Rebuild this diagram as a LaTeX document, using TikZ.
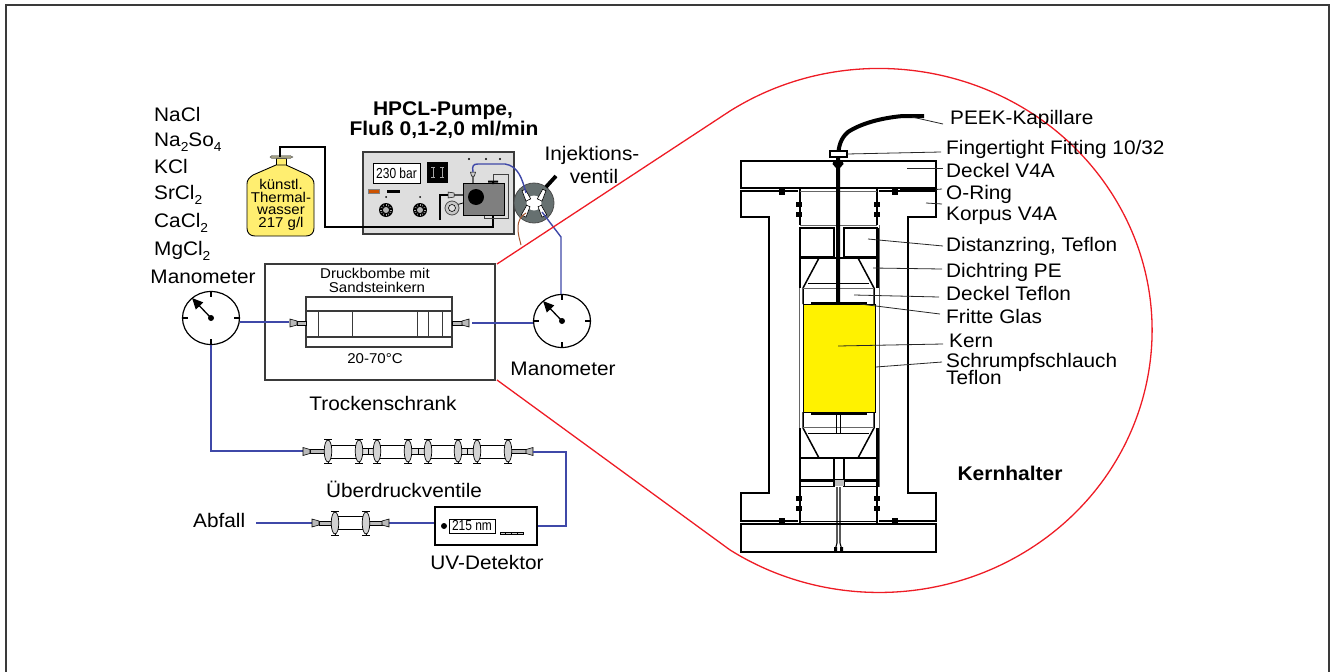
\documentclass[tikz,border=0pt]{standalone}
\usepackage{fontspec}
\usepackage{graphicx}
\setmainfont[FakeStretch=1.06]{Liberation Sans}
\usetikzlibrary{shapes.geometric,arrows.meta,calc}
\definecolor{tubeblue}{HTML}{3F48A8}
\definecolor{framegrey}{HTML}{3A3A3A}
\definecolor{redline}{HTML}{EE1C25}
\definecolor{bottley}{HTML}{FFEE70}
\definecolor{coreyellow}{HTML}{FFF200}
\definecolor{panel}{HTML}{DEDEDE}
\definecolor{motor}{HTML}{7F7F7F}
\definecolor{valvegrey}{HTML}{667070}
\definecolor{brown1}{HTML}{A5552F}
\newcommand{\lowtwo}[1]{\raisebox{-.28em}{\fontsize{13}{13}\selectfont #1}}
\newcommand{\leadr}[3]{\draw[leader] (#2) -- ([shift={(#3)}]#1.base west);}
\tikzset{
  x=1pt,y=-1pt,
  lab/.style={inner sep=0pt,font=\fontsize{19.6}{21}\selectfont},
  labw/.style={lab,anchor=base west},
  small/.style={inner sep=0pt,font=\fontsize{14.2}{15}\selectfont},
  boldlab/.style={inner sep=0pt,font=\fontsize{19.8}{20}\selectfont\bfseries},
  tube/.style={draw=tubeblue,line width=1.4pt},
  leader/.style={draw=black!85,line width=.8pt},
  wall/.style={draw=black,line width=1.5pt},
  thin1/.style={draw=black,line width=.8pt},
  gwall/.style={draw=black!60,line width=1pt},
  thick1/.style={draw=black,line width=2.2pt},
  mano/.style={ellipse,draw=black,line width=1.2pt,fill=white,minimum width=57pt,minimum height=53pt,inner sep=0pt},
  fitcone/.pic={
    \fill[gray!55,draw=black,line width=.5pt] (7,-2) rectangle (#1,2);
    \fill[gray!55,draw=black,line width=.6pt] (0,-4) -- (7,-2) -- (7,2) -- (0,4) -- cycle;
  },
  vdisk/.pic={
    \draw[black,line width=1pt] (-4,-12) -- (4,-12) (-4,12) -- (4,12) (0,-12) -- (0,12);
    \fill[gray!35,draw=black,line width=.7pt] (0,0) ellipse [x radius=3.8,y radius=11];
  },
  dial/.pic={
    \fill[black] (0,0) circle (7);
    \fill[gray!60] (0,0) circle (3);
    \foreach \a in {0,30,...,330} \draw[gray!70,line width=.5pt] (\a:4) -- (\a:6);
  },
  gaugemarks/.pic={
    \draw[black,line width=1.2pt] (0,-26.5) -- (0,-21) (0,26.5) -- (0,21) (-28.5,0) -- (-23,0) (28.5,0) -- (23,0);
    \draw[black,line width=1.3pt,-{Triangle[length=11pt,width=10pt]}] (0,0) -- (-19,-20);
    \fill[black] (0,0) circle (3);
  },
  vport/.pic={
    \fill[white,draw=black,line width=.6pt] (-1.8,-5.5) -- (1.8,-5.5) -- (2.6,5.5) -- (-2.6,5.5) -- cycle;
  }
}
\begin{document}
\begin{tikzpicture}
\useasboundingbox (0,0) rectangle (1331,672);
% outer frame
\coordinate (fA) at (6,672); \coordinate (fB) at (6,5); \coordinate (fC) at (1329,5); \coordinate (fD) at (1329,672);
\draw[framegrey,line width=2pt] (fA) -- (fB) -- (fC) -- (fD);

% salts
\node[labw] (sa) at (154,121) {NaCl};
\node[labw] (sb) at (154,146) {Na\lowtwo{2}So\lowtwo{4}};
\node[labw] (sc) at (154,173) {KCl};
\node[labw] (sd) at (154,199) {SrCl\lowtwo{2}};
\node[labw] (se) at (154,227) {CaCl\lowtwo{2}};
\node[labw] (sf) at (154,255) {MgCl\lowtwo{2}};

% bottle
\coordinate (bNeck) at (280,157);
\coordinate (b1) at (280,147); \coordinate (b2) at (325,147); \coordinate (b3) at (325,227); \coordinate (b4) at (493,227); \coordinate (b5) at (493,216);
\draw[fill=bottley,draw=black,line width=.9pt] (276,158) rectangle (286,166);
\draw[fill=bottley,draw=black,line width=.9pt] (276,165) -- (286,165) -- (308,175) .. controls (312,178) and (314,180) .. (314,184) -- (314,228) .. controls (314,233) and (311,236) .. (306,236) -- (255,236) .. controls (250,236) and (247,233) .. (247,228) -- (247,184) .. controls (247,180) and (249,178) .. (253,175) -- cycle;
\fill[black!70!yellow!60!white,draw=black!70,line width=.4pt] (270,157) -- (272,155.5) -- (290,155.5) -- (293,157) -- (290,158.5) -- (272,158.5) -- cycle;
\node[small] (bt1) at (281,184) {künstl.};
\node[small] (bt2) at (281,197) {Thermal-};
\node[small] (bt3) at (281,211) {wasser};
\node[small] (bt4) at (281,224) {217 g/l};

% pump
\node[boldlab] (hp1) at (443,111) {HPCL-Pumpe,};
\node[boldlab] (hp2) at (444,130) {Fluß 0,1-2,0 ml/min};
\draw[fill=panel,draw=framegrey,line width=1.4pt] (363,152) rectangle (514,234);
\draw[black,line width=1.3pt] (bNeck) -- (b1) -- (b2) -- (b3) -- (b4) -- (b5);
\node[draw=black,line width=1pt,fill=white,minimum width=47pt,minimum height=20pt,inner sep=0pt,font=\fontsize{14.5}{15}\selectfont] (disp) at (396.5,173) {\scalebox{.78}[1]{230 bar}};
\fill[black] (427,162) rectangle (448,183);
\draw[gray!70,line width=.9pt] (433,167) -- (433,177) (442,167) -- (442,177) (431,167) -- (435,167) (431,177) -- (435,177) (440,167) -- (444,167) (440,177) -- (444,177);
\fill[orange!80!red!80!black,draw=gray,line width=.5pt] (368,189) rectangle (379,193);
\fill[black] (387,190) rectangle (400,193);
\fill[black] (386,197) circle (1) (420,197) circle (1) (469,159) circle (1.2) (486,159) circle (1.2) (500,159) circle (1.2);
\pic at (386,210) {dial};
\pic at (420,210) {dial};
\draw[black!75,line width=1pt] (493,181) -- (493,174) -- (508,174) -- (508,218) -- (484,218) -- (484,215);
\draw[fill=motor,draw=black,line width=1pt] (463,183) rectangle (504,215);
\fill[black] (476,197) circle (8);
\fill[black] (488,180.5) rectangle (498,182.5) (492,182) rectangle (494,184);
\draw[black,line width=.8pt] (456,205) -- (463,203);
\draw[fill=gray!45,draw=black!70,line width=.8pt] (452,208) circle (7);
\draw[fill=gray!25,draw=black,line width=.6pt] (452,208) circle (3.5);
\draw[black,line width=2.4pt] (440,220) -- (440,195) -- (448,195);
\draw[black!70,line width=1.6pt] (454,195) -- (463,195);
\fill[gray!40,draw=black,line width=.5pt] (448,192) -- (454,193) -- (454,197) -- (448,198) -- cycle;
\draw[black!60,line width=1.4pt] (473,176) -- (473,183);
\fill[gray!40,draw=black,line width=.5pt] (470.5,172) -- (475.5,172) -- (474.5,176) -- (471.5,176) -- cycle;

% injection valve
\node[circle,draw=black!70,line width=.8pt,fill=valvegrey,minimum size=40pt,inner sep=0pt] (inj) at (534,203) {};
\fill[white] (inj.center) circle (7.5);
\pic[rotate=25] at (526,195) {vport};
\pic[rotate=-25] at (542,195) {vport};
\pic[rotate=-25] at (526,211) {vport};
\pic[rotate=25] at (542,211) {vport};
\draw[black,line width=3.8pt] (546,187) -- (556,176);
\node[lab] (it1) at (592,155) {Injektions-};
\node[lab] (it2) at (594,176) {ventil};
\coordinate (t1) at (473,172); \coordinate (t2) at (526,193);
\draw[tube] (t1) .. controls (472,166) and (473,164) .. (478,164) -- (505,164) .. controls (518,166) and (522,178) .. (t2);
\coordinate (br1) at (526,213); \coordinate (br2) at (521,245);
\draw[draw=brown1,line width=1pt] (br1) .. controls (521,216) and (518,220) .. (518,228) .. controls (518,236) and (520,240) .. (br2);

% manometers
\node[mano] (mL) at (211,318) {};
\pic at (mL.center) {gaugemarks};
\node[mano] (mR) at (562,321) {};
\pic at (mR.center) {gaugemarks};
\coordinate (inj3) at (542,212); \coordinate (inj4) at (561,237);
\draw[tube] (inj3) -- (inj4) -- (mR.north -| inj4);
\node[lab] (mtL) at (203,277) {Manometer};
\node[lab] (mtR) at (563,369) {Manometer};

% red lens
\draw[redline,line width=1.3pt] (497,264) -- (730,111) arc [start angle=-123.1,end angle=123.1,x radius=273,y radius=262] -- (497,380);

% oven
\node[draw=framegrey,line width=1.5pt,fill=white,minimum width=230pt,minimum height=116pt,inner sep=0pt] (oven) at (380,322) {};
\node[small] (ov1) at (375,273) {Druckbombe mit};
\node[small] (ov2) at (377,287) {Sandsteinkern};
\node[small] (ov3) at (375,359) {20-70°C};
\node[lab] (ovt) at (383,403) {Trockenschrank};
\draw[framegrey,line width=1.4pt] (306,297) rectangle (452,347);
\draw[framegrey,line width=1.1pt] (306,311) -- (452,311) (306,337) -- (452,337);
\foreach \xx in {318,352,417,428,442,451} \draw[framegrey,line width=1pt] (\xx,311) -- (\xx,337);
\pic at (290,323) {fitcone=16};
\pic[xscale=-1] at (469,323) {fitcone=17};
\coordinate (cL) at (289,322); \coordinate (cR) at (472,323);
\draw[tube] (mL.east |- cL) -- (cL);
\draw[tube] (cR) -- (mR.west |- cR);

% relief valves
\coordinate (v0) at (303,451); \coordinate (v9) at (533,452);
\draw[tube] (mL.south) -- (mL.south |- v0) -- (v0);
\foreach \aa/\bb in {328/359,377/408,428/458,477/508} {
  \draw[black,line width=.9pt,fill=white] (\aa,445) rectangle (\bb,458);
}
\foreach \aa/\bb in {359/377,408/428,458/477} {
  \draw[black,line width=.8pt,fill=gray!25] (\aa,448.5) rectangle (\bb,454.5);
  \draw[black,line width=.8pt] ({(\aa+\bb)/2},448.5) -- ({(\aa+\bb)/2},454.5);
}
\pic at (303,451.5) {fitcone=22};
\pic[xscale=-1] at (533,451.5) {fitcone=22};
\foreach \xx in {328,359,377,408,428,458,477,508} \pic at (\xx,451) {vdisk};
\node[lab] (uev) at (404,489) {Überdruckventile};

% UV detector
\node[draw=black,line width=1.2pt,fill=white,minimum width=102pt,minimum height=38pt,inner sep=0pt] (uv) at (486,526) {};
\fill[black] (444,526) circle (3);
\node[draw=black,line width=.8pt,minimum width=46pt,minimum height=14pt,inner sep=0pt,font=\fontsize{14.5}{15}\selectfont] (uvd) at (472,526) {\scalebox{.78}[1]{215 nm}};
\draw[black,line width=.6pt,fill=gray!40] (500,532) rectangle (523,534.5);
\foreach \xx in {505,511,517} \draw[black,line width=.5pt] (\xx,532) -- (\xx,534.5);
\node[lab] (uvt) at (487,562) {UV-Detektor};
\draw[tube] (v9) -- (566,452) -- (566,526) -- (uv.east |- 0,526);

% waste
\node[lab,anchor=base west] (abf) at (193,527) {Abfall};
\coordinate (w1) at (256,523); \coordinate (w2) at (312,523); \coordinate (w3) at (389,523);
\draw[tube] (w1) -- (w2);
\draw[tube] (w3) -- (uv.west |- w3);
\draw[black,line width=.9pt,fill=white] (335,516.5) rectangle (366,529.5);
\pic at (312,523) {fitcone=22};
\pic[xscale=-1] at (389,523) {fitcone=22};
\pic at (335,523) {vdisk};
\pic at (366,523) {vdisk};

% core holder: lid and body
\draw[wall] (741,161) rectangle (936,188);
\draw[gwall,fill=white] (741,524) rectangle (936,552);
\draw[wall] (741,524) rectangle (936,552);
\draw[wall] (798,191) -- (741,191) -- (741,217) -- (769,217) -- (769,493) -- (741,493) -- (741,521) -- (798,521);
\draw[wall] (879,191) -- (936,191) -- (936,217) -- (908,217) -- (908,493) -- (936,493) -- (936,521) -- (879,521);
\draw[wall] (741,188) -- (800,188) -- (800,225);
\draw[wall] (936,188) -- (877,188) -- (877,225);
\draw[gwall] (800,191) -- (877,191);
\draw[wall] (800,487) -- (800,524) -- (741,524);
\draw[wall] (877,487) -- (877,524) -- (936,524);
\draw[thin1] (800,521) -- (877,521);
\draw[gwall] (879,225) -- (879,487) (799,288) -- (799,428);
\foreach \px/\py in {782/191,895/191,782/521,895/521}
  \fill[black] (\px-3,\py-3.5) rectangle (\px+3,\py+3.5);
\foreach \px/\py in {799/204,799/214,877/204,877/214,799/498,799/508,877/498,877/508}
  \fill[black] (\px-3,\py-2.5) rectangle (\px+3,\py+2.5);
% spacer rings
\draw[gwall] (800,225) -- (877,225);
\draw[wall] (800,228) rectangle (834,257);
\draw[wall] (844,228) rectangle (877,257);
\draw[thick1] (800,258) -- (877,258) (800,458) -- (877,458);
\draw[wall] (800,458) rectangle (834,480);
\draw[wall] (844,458) rectangle (877,480);
\draw[thick1] (800,480.5) -- (877,480.5);
\draw[wall] (800,486.5) -- (834,486.5) -- (834,458) (877,486.5) -- (844,486.5) -- (844,458);
\draw[thick1] (800,228) -- (800,288) (877.5,228) -- (877.5,288);
\draw[thick1] (800,428) -- (800,487) (877.5,428) -- (877.5,487);
% cones
\draw[wall] (819,258) -- (803,288) -- (803,304) (858,258) -- (874,288) -- (874,304);
\draw[wall] (819,458) -- (803,428) -- (803,412) (858,458) -- (874,428) -- (874,412);
\draw[thin1] (808,283) -- (869,283) (808,433) -- (869,433);
\draw[gwall] (803,288.5) -- (874,288.5) (803,427.5) -- (874,427.5);
% core
\node[draw=black,line width=1pt,fill=coreyellow,minimum width=72pt,minimum height=108pt,inner sep=0pt] (core) at (839,358) {};
\draw[black,line width=2pt] (811,302.5) -- (867,302.5) (811,414) -- (867,414);
% capillary
\coordinate (capA) at (924,116); \coordinate (capB) at (838,160);
\draw[black,line width=4pt] (capA) -- (903,116) .. controls (880,118) and (860,124) .. (848,132) .. controls (841,138) and (838,146) .. (capB) -- (core.north -| capB);
\fill[black] (833.5,161) -- (842.5,161) -- (843.5,164) -- (840,168) -- (836,168) -- (832.5,164) -- cycle;
\draw[fill=white,draw=black,line width=1.2pt] (830,151) rectangle (847,157);
\draw[black,line width=1.4pt] (836.5,414) -- (836.5,434) (840.5,414) -- (840.5,434);
% drain
\coordinate (dT) at (838.5,487); \coordinate (dB) at (838.5,543);
\draw[black,line width=1.1pt] (837,487) -- (837,543) -- (835,550) (840,487) -- (840,543) -- (842,550);
\fill[black] (834,547) rectangle (837,552) (840,547) rectangle (843,552);
\fill[gray!50] (834.5,480) rectangle (843.5,486);

% labels
\node[labw] (lPeek) at (950,124) {PEEK-Kapillare};
\node[labw] (lFit) at (946,154) {Fingertight Fitting 10/32};
\node[labw] (lDeck) at (946,177) {Deckel V4A};
\node[labw] (lOr) at (946,199) {O-Ring};
\node[labw] (lKor) at (946,220) {Korpus V4A};
\node[labw] (lDis) at (946,251) {Distanzring, Teflon};
\node[labw] (lDic) at (946,277) {Dichtring PE};
\node[labw] (lDT) at (946,300) {Deckel Teflon};
\node[labw] (lFri) at (946,323) {Fritte Glas};
\node[labw] (lKer) at (949,347) {Kern};
\node[labw] (lSch) at (946,367) {Schrumpfschlauch};
\node[labw] (lTef) at (946,384) {Teflon};
\node[boldlab] (lKh) at (1010,473) {Kernhalter};
\leadr{lPeek}{912,117}{-7,0}
\leadr{lFit}{847,154}{-5,-2}
\leadr{lDeck}{907,168}{-3,-9}
\draw[black,line width=1.6pt] (900,189.5) -- (936,189.5);
\leadr{lOr}{936,189.5}{-4,-10}
\leadr{lKor}{926,203}{-4,-16}
\leadr{lDis}{868,239}{-3,-5}
\leadr{lDic}{873,268}{-4,-8}
\leadr{lDT}{854,295}{-7,-3}
\leadr{lFri}{860,304}{-6,-9}
\leadr{lKer}{838,346}{-6,-3}
\leadr{lSch}{876,367}{-4,-5}
\end{tikzpicture}
\end{document}
